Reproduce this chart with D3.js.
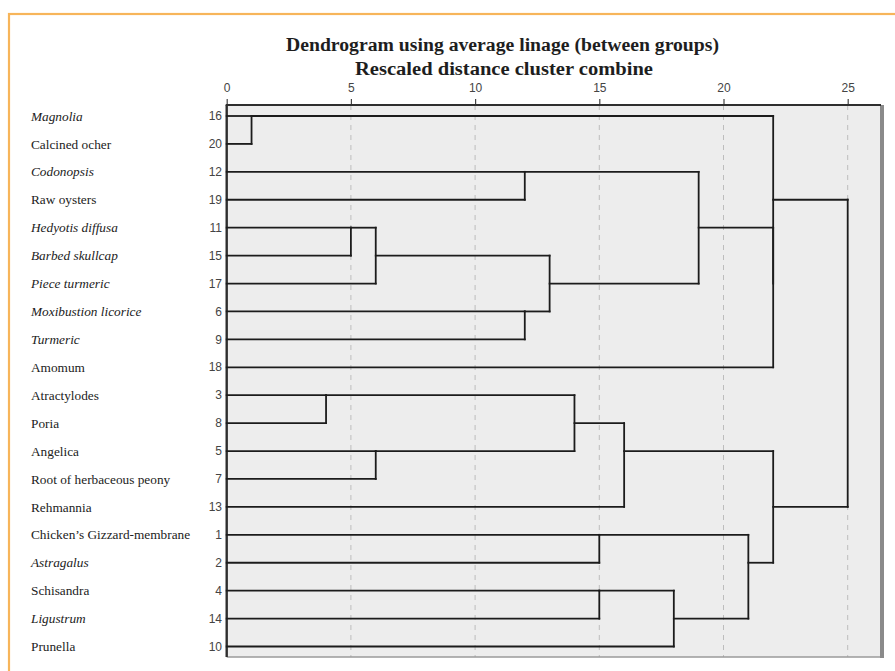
<!DOCTYPE html>
<html>
<head>
<meta charset="utf-8">
<script src="https://cdn.jsdelivr.net/npm/d3@7"></script>
<style>
  html, body { margin: 0; padding: 0; background: #fff; }
  svg { display: block; }
</style>
</head>
<body>
<svg id="chart" width="895" height="671"></svg>
<script>
// ---- Data ----
const labels = ["Magnolia", "Calcined ocher", "Codonopsis", "Raw oysters", "Hedyotis diffusa",
  "Barbed skullcap", "Piece turmeric", "Moxibustion licorice", "Turmeric", "Amomum",
  "Atractylodes", "Poria", "Angelica", "Root of herbaceous peony", "Rehmannia",
  "Chicken\u2019s Gizzard-membrane", "Astragalus", "Schisandra", "Ligustrum", "Prunella"];
const caseNumbers = [16, 20, 12, 19, 11, 15, 17, 6, 9, 18, 3, 8, 5, 7, 13, 1, 2, 4, 14, 10];
const italicLabels = ["Magnolia", "Codonopsis", "Hedyotis diffusa", "Barbed skullcap", "Piece turmeric",
  "Moxibustion licorice", "Turmeric", "Astragalus", "Ligustrum"];
// merges: [row of cluster A, row of cluster B, rescaled distance]
const mergeA = [0, 10, 4, 4, 12, 7, 2, 4, 10, 15, 17, 10, 17, 2, 15, 2, 0, 10, 0];
const mergeB = [1, 11, 5, 6, 13, 8, 3, 7, 12, 16, 18, 14, 19, 4, 17, 9, 2, 15, 10];
const mergeDist = [1, 4, 5, 6, 6, 12, 12, 13, 14, 15, 15, 16, 18, 19, 21, 22, 22, 22, 25];
const tickValues = [0, 5, 10, 15, 20, 25];
const titleLines = ["Dendrogram using average linage (between groups)", "Rescaled distance cluster combine"];

// ---- Layout ----
const svg = d3.select("#chart");
const plotLeft = 226.7, plotTop = 105, plotBottom = 657, plotRight = 881;
const x = d3.scaleLinear().domain([0, 25]).range([plotLeft, 847.7]);
const y = d3.scaleLinear().domain([0, labels.length - 1]).range([116, 646.5]);

// orange outer frame
svg.append("rect").attr("x", 9).attr("y", 14).attr("width", 950).attr("height", 720)
  .attr("fill", "none").attr("stroke", "#f7b55a").attr("stroke-width", 2.2);

// titles
svg.append("text").attr("x", 502.5).attr("y", 51)
  .attr("text-anchor", "middle")
  .attr("font-family", "'Liberation Serif', 'Times New Roman', serif")
  .attr("font-weight", "bold").attr("font-size", 18).attr("fill", "#1e1e1e")
  .attr("textLength", 433).attr("lengthAdjust", "spacingAndGlyphs")
  .text(titleLines[0]);
svg.append("text").attr("x", 504).attr("y", 75)
  .attr("text-anchor", "middle")
  .attr("font-family", "'Liberation Serif', 'Times New Roman', serif")
  .attr("font-weight", "bold").attr("font-size", 18).attr("fill", "#1e1e1e")
  .attr("textLength", 298).attr("lengthAdjust", "spacingAndGlyphs")
  .text(titleLines[1]);

// plot background
svg.append("rect").attr("x", plotLeft).attr("y", plotTop)
  .attr("width", plotRight - plotLeft).attr("height", plotBottom - plotTop)
  .attr("fill", "#ededed");

// dashed grid lines
svg.append("g").selectAll("line").data(tickValues.filter(d => d > 0)).join("line")
  .attr("x1", d => x(d)).attr("x2", d => x(d))
  .attr("y1", plotTop).attr("y2", plotBottom)
  .attr("stroke", "#bdbdbd").attr("stroke-width", 1).attr("stroke-dasharray", "5,5");

// top axis
const axis = svg.append("g").attr("transform", `translate(0,${plotTop})`)
  .call(d3.axisTop(x).tickValues(tickValues).tickSize(6).tickPadding(7).tickFormat(d3.format("d")));
axis.select(".domain").remove();
axis.selectAll(".tick line").attr("stroke", "#444").attr("stroke-width", 1.2);
axis.selectAll(".tick text").attr("font-family", "Arial, 'Liberation Sans', sans-serif")
  .attr("font-size", 12).attr("fill", "#444");

// frame
svg.append("line").attr("x1", plotLeft).attr("x2", plotRight).attr("y1", plotBottom).attr("y2", plotBottom)
  .attr("stroke", "#9a9a9a").attr("stroke-width", 1.5);
svg.append("line").attr("x1", plotRight + 1).attr("x2", plotRight + 1).attr("y1", plotTop).attr("y2", plotBottom + 1)
  .attr("stroke", "#8a8a8a").attr("stroke-width", 4);
svg.append("line").attr("x1", plotLeft - 1).attr("x2", plotRight).attr("y1", plotTop).attr("y2", plotTop)
  .attr("stroke", "#2e2e2e").attr("stroke-width", 2);
svg.append("line").attr("x1", plotLeft).attr("x2", plotLeft).attr("y1", plotTop).attr("y2", plotBottom)
  .attr("stroke", "#2e2e2e").attr("stroke-width", 2.4);

// row labels
svg.append("g").selectAll("text").data(labels).join("text")
  .attr("x", 31).attr("y", (d, i) => y(i)).attr("dy", "0.35em")
  .attr("font-family", "'Liberation Serif', 'Times New Roman', serif")
  .attr("font-size", 13.3).attr("fill", "#222")
  .attr("font-style", d => italicLabels.includes(d) ? "italic" : "normal")
  .text(d => d);

// case numbers
svg.append("g").selectAll("text").data(caseNumbers).join("text")
  .attr("x", 222).attr("y", (d, i) => y(i)).attr("dy", "0.35em")
  .attr("text-anchor", "end")
  .attr("font-family", "Arial, 'Liberation Sans', sans-serif")
  .attr("font-size", 12).attr("fill", "#444")
  .text(d => d);

// dendrogram
const state = labels.map((d, i) => ({ pos: i, h: 0 }));
const segs = [];
mergeA.forEach((a, k) => {
  const b = mergeB[k], h = mergeDist[k];
  const A = state[a], B = state[b];
  segs.push([A.h, A.pos, h, A.pos]);
  segs.push([B.h, B.pos, h, B.pos]);
  segs.push([h, A.pos, h, B.pos]);
  state[Math.min(a, b)] = { pos: Math.floor((A.pos + B.pos) / 2), h: h };
});
svg.append("g").selectAll("line").data(segs.filter(s => !(s[0] === s[2] && s[1] === s[3]))).join("line")
  .attr("x1", s => x(s[0])).attr("y1", s => y(s[1]))
  .attr("x2", s => x(s[2])).attr("y2", s => y(s[3]))
  .attr("stroke", "#1c1c1c").attr("stroke-width", 1.8).attr("stroke-linecap", "square");
</script>
</body>
</html>
